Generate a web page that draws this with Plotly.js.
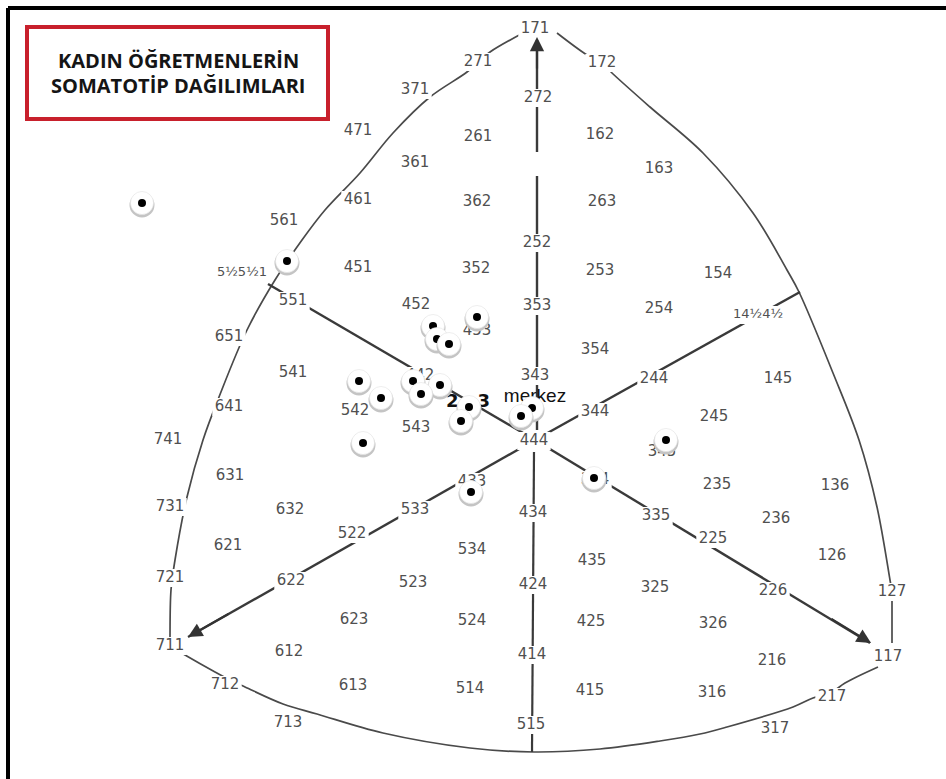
<!DOCTYPE html>
<html>
<head>
<meta charset="utf-8">
<script src="https://cdn.plot.ly/plotly-3.0.1.min.js"></script>
<style>html,body{margin:0;padding:0;background:#fff;}#chart{width:946px;height:779px;}</style>
</head>
<body>
<div id="chart"></div>
<script>
// ---- somatotype labels of the chart (text + position on the chart grid) ----
const labelText = ['171','271','172','371','272','471','261','162','361','163','461','362','263','561','252','451','352','253','154','5½5½1','551','452','353','254','14½4½','453','651','354','541','442','343','244','145','641','542','344','245','543','741','444','345','631','334','433','235','136','731','632','533','434','335','236','522','225','621','534','126','435','721','622','523','424','325','226','127','623','524','425','326','711','612','414','117','216','712','613','514','415','316','217','713','515','317'];
const labelX = [535,478,602,415,538,358,478,600,415,659,358,477,602,284,537,358,476,600,718,242,293,416,537,659,758,477,229,595,293,420,535,654,778,229,355,595,714,416,168,534,662,230,595,472,717,835,170,290,415,533,656,776,352,713,228,472,832,592,170,291,413,533,655,773,892,354,472,591,713,170,289,532,888,772,225,353,470,590,712,832,288,531,775];
const labelY = [29,62,63,90,98,131,137,135,163,169,200,202,202,221,243,268,269,271,274,273,301,305,306,309,315,331,337,350,373,376,376,379,379,407,411,412,417,428,440,441,452,476,480,482,485,486,507,510,510,513,516,519,534,539,546,550,556,561,578,581,583,585,588,591,592,620,621,622,624,646,652,655,657,661,685,686,689,691,693,697,723,725,729];

// ---- overlay notes ----
const noteText = ['merkez', '2\u00a0\u00a0\u00a03'];
const noteX = [535, 468];
const noteY = [397, 402];

// ---- teachers' somatotype points ----
const dotX = [142,287,477,433,437,449,359,413,440,421,381,469,532,521,461,666,363,594,471];
const dotY = [203,261,317,326,339,344,381,381,385,394,398,407,408,416,421,440,443,478,492];

// ---- chart outline (boundary arcs) ----
const leftArcX = [523,490,478,467,430,393,360,325,302,275,247,219,203,187,175,171,170,170];
const leftArcY = [33,52,62,72,97,133,173,210,240,280,330,397,440,497,560,590,637,646];
const rightArcX = [557,587,602,612,650,703,753,787,799,833,859,877,890,892];
const rightArcY = [33,55,63,73,107,153,213,270,292,373,440,507,580,592];
const rightEdgeX = [892,892];
const rightEdgeY = [592,643];
const baseArcX = [170,185,215,230,245,283,317,383,470,534,600,660,700,727,793,813,832,845,878];
const baseArcY = [646,655,672,680,687,704,714,733,748,752,749,741,734,727,707,698,692,683,667];

// ---- axes through the centre (444) ----
const centreX = 535, centreY = 440;
const mesoAxisX = [537,537,null,537,537];
const mesoAxisY = [430,176,null,152,40];
const lowerAxisX = [534,532];
const lowerAxisY = [452,752];
const spokeEndX = [268,800,188,870];
const spokeEndY = [284,292,637,643];

const lineCol = '#3a3a3a';
const traces = [];
function addLine(xs, ys, w, shape, col) {
  traces.push({x: xs, y: ys, mode: 'lines', type: 'scatter', hoverinfo: 'skip',
    line: {color: col || lineCol, width: w, shape: shape || 'linear'}});
}
addLine(leftArcX, leftArcY, 1.7, 'spline', '#4a4a4a');
addLine(rightArcX, rightArcY, 1.7, 'spline', '#4a4a4a');
addLine(rightEdgeX, rightEdgeY, 1.7, 'linear', '#4a4a4a');
addLine(baseArcX, baseArcY, 1.7, 'spline', '#4a4a4a');
addLine(mesoAxisX, mesoAxisY, 2.4);
addLine(lowerAxisX, lowerAxisY, 2.2);
for (let i = 0; i < spokeEndX.length; i++) {
  addLine([centreX, spokeEndX[i]], [centreY, spokeEndY[i]], 2.4);
}

// label sizes: fractional labels are printed smaller
const labelSize = labelText.map(t => t.includes('½') ? 13 : 15);

// white boxes under labels (break the lines like in the printed chart)
const bx = [], by = [];
labelText.forEach((t, i) => {
  const hw = [...t].length * 4.9 * labelSize[i] / 15 + 2, hh = 9;
  const x = labelX[i], y = labelY[i];
  bx.push(x - hw, x + hw, x + hw, x - hw, x - hw, null);
  by.push(y - hh, y - hh, y + hh, y + hh, y - hh, null);
});
traces.push({x: bx, y: by, type: 'scatter', mode: 'lines', fill: 'toself',
  fillcolor: '#ffffff', line: {width: 0, color: 'rgba(0,0,0,0)'}, hoverinfo: 'skip'});

// labels
traces.push({x: labelX, y: labelY, text: labelText, type: 'scatter', mode: 'text',
  textposition: 'middle center', hoverinfo: 'skip',
  textfont: {family: 'DejaVu Sans', size: labelSize, color: '#505050'}});

// notes
traces.push({x: [noteX[0]], y: [noteY[0]], text: [noteText[0]], type: 'scatter', mode: 'text',
  textposition: 'middle center', hoverinfo: 'skip',
  textfont: {family: 'Liberation Sans', size: 19, color: '#111'}});
traces.push({x: [noteX[1]], y: [noteY[1]], text: [noteText[1]], type: 'scatter', mode: 'text',
  textposition: 'middle center', hoverinfo: 'skip',
  textfont: {family: 'DejaVu Sans', size: 18, color: '#111', weight: 'bold'}});

// dots with white halo
for (let i = 0; i < dotX.length; i++) {
  traces.push({x: [dotX[i]], y: [dotY[i] + 2], type: 'scatter', mode: 'markers', hoverinfo: 'skip',
    marker: {size: 25, color: '#c4c4c4', line: {width: 0}}});
  traces.push({x: [dotX[i]], y: [dotY[i]], type: 'scatter', mode: 'markers', hoverinfo: 'skip',
    marker: {size: 23, color: '#ffffff', line: {width: 0.6, color: '#e2e2e2'}}});
  traces.push({x: [dotX[i]], y: [dotY[i]], type: 'scatter', mode: 'markers', hoverinfo: 'skip',
    marker: {size: 8, color: '#000000', line: {width: 0}}});
}

// arrowheads at the ends of three axes
const arrows = [
  {x: 537, y: 37, ax: 537, ay: 70},
  {x: 188, y: 637, ax: 230, ay: 613},
  {x: 871, y: 643, ax: 830, ay: 618}
].map(a => ({x: a.x, y: a.y, ax: a.ax, ay: a.ay, xref: 'x', yref: 'y', axref: 'x', ayref: 'y',
  text: '', showarrow: true, arrowhead: 2, arrowsize: 1.3, arrowwidth: 2.2, arrowcolor: '#333', standoff: 0}));

const titleAnn = [
  {x: 178, y: 60, text: '<b>KADIN ÖĞRETMENLERİN</b>'},
  {x: 178, y: 85, text: '<b>SOMATOTİP DAĞILIMLARI</b>'}
].map(a => ({x: a.x, y: a.y, xref: 'x', yref: 'y', text: a.text, showarrow: false,
  xanchor: 'center', yanchor: 'middle',
  font: {family: 'Open Sans', size: 20, color: '#151515'}}));

const layout = {
  width: 946, height: 779,
  margin: {l: 0, r: 0, t: 0, b: 0},
  paper_bgcolor: '#ffffff', plot_bgcolor: '#ffffff',
  showlegend: false,
  xaxis: {range: [0, 946], visible: false, fixedrange: true},
  yaxis: {range: [779, 0], visible: false, fixedrange: true},
  shapes: [
    {type: 'line', xref: 'x', yref: 'y', x0: 8, x1: 946, y0: 8, y1: 8, line: {color: '#000', width: 4}, layer: 'above'},
    {type: 'line', xref: 'x', yref: 'y', x0: 8, x1: 8, y0: 8, y1: 779, line: {color: '#000', width: 4}, layer: 'above'},
    {type: 'rect', xref: 'x', yref: 'y', x0: 27, x1: 328, y0: 27, y1: 119, fillcolor: '#ffffff', line: {color: '#c8202c', width: 4}, layer: 'above'}
  ],
  annotations: arrows.concat(titleAnn)
};

Plotly.newPlot('chart', traces, layout, {displayModeBar: false, staticPlot: true});
</script>
</body>
</html>
